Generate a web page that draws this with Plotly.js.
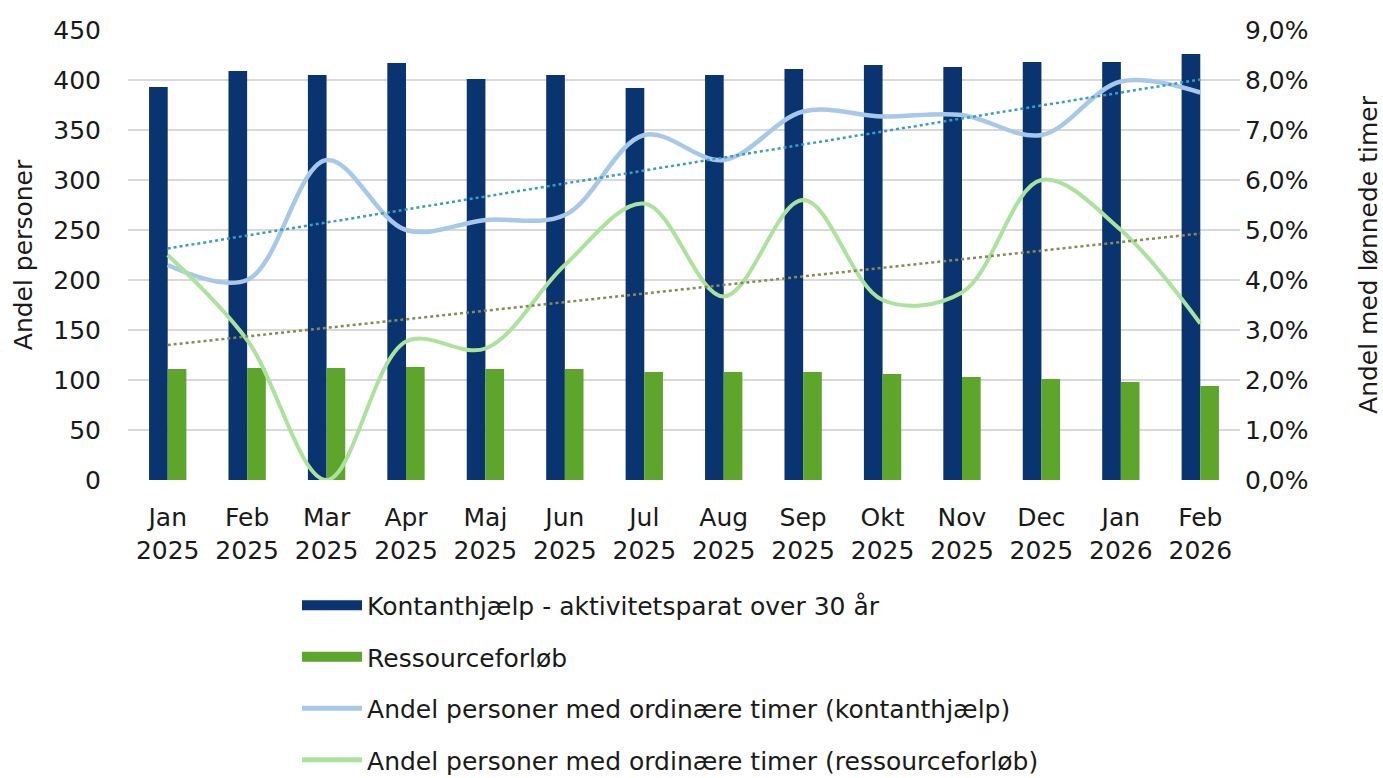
<!DOCTYPE html>
<html>
<head>
<meta charset="utf-8">
<script src="https://cdn.plot.ly/plotly-3.0.1.min.js"></script>
<style>html,body{margin:0;padding:0;background:#fff;}#chart{width:1383px;height:778px;}</style>
</head>
<body>
<div id="chart"></div>
<script>
const categories = ["Jan<br>2025","Feb<br>2025","Mar<br>2025","Apr<br>2025","Maj<br>2025","Jun<br>2025","Jul<br>2025","Aug<br>2025","Sep<br>2025","Okt<br>2025","Nov<br>2025","Dec<br>2025","Jan<br>2026","Feb<br>2026"];
const kontanthjaelp = [393, 409, 405, 417, 401, 405, 392, 405, 411, 415, 413, 418, 418, 426];
const ressourceforloeb = [111, 112, 112, 113, 111, 111, 108, 108, 108, 106, 103, 101, 98, 94];
const andelKontant = [0.043, 0.040, 0.064, 0.050, 0.052, 0.053, 0.069, 0.064, 0.0737, 0.0727, 0.073, 0.069, 0.0797, 0.0775];
const andelRessource = [0.045, 0.028, 0.000, 0.0277, 0.0263, 0.043, 0.0553, 0.0367, 0.056, 0.036, 0.0375, 0.060, 0.050, 0.0313];
const trendCats = ["Jan<br>2025", "Feb<br>2026"];
const trendKontant = [0.0463, 0.0801];
const trendRessource = [0.0270, 0.0493];

const names = ["Kontanthjælp - aktivitetsparat over 30 år", "Ressourceforløb", "Andel personer med ordinære timer (kontanthjælp)", "Andel personer med ordinære timer (ressourceforløb)"];
const colors = ['#0a3470', '#5da52b', '#a8c8ea', '#ace39c'];

const data = [
  {type:'bar', x:categories, y:kontanthjaelp, name:names[0], marker:{color:colors[0]}, showlegend:false, yaxis:'y'},
  {type:'bar', x:categories, y:ressourceforloeb, name:names[1], marker:{color:colors[1]}, showlegend:false, yaxis:'y'},
  {type:'scatter', mode:'lines', x:categories, y:andelKontant, name:names[2], yaxis:'y2', showlegend:false,
   line:{color:colors[2], width:4.5, shape:'spline', smoothing:1}},
  {type:'scatter', mode:'lines', x:categories, y:andelRessource, name:names[3], yaxis:'y2', showlegend:false,
   line:{color:colors[3], width:4, shape:'spline', smoothing:1}},
  {type:'scatter', mode:'lines', x:trendCats, y:trendKontant, yaxis:'y2', showlegend:false, hoverinfo:'skip',
   line:{color:'#3a9dc2', width:2.5, dash:'dot'}},
  {type:'scatter', mode:'lines', x:trendCats, y:trendRessource, yaxis:'y2', showlegend:false, hoverinfo:'skip',
   line:{color:'#8a8a55', width:2.5, dash:'dot'}}
];
// legend entries (wide symbols as in the reference)
const legendWidths = [14, 14, 5, 5];
names.forEach((n, i) => {
  data.push({type:'scatter', mode:'lines', x:[categories[0]], y:[null], name:n, yaxis:'y2',
             legendgroup:'g'+i, hoverinfo:'skip', line:{color:colors[i], width:legendWidths[i]}});
});

const txt = '#1a1a1a';
const layout = {
  width:1383, height:778,
  margin:{l:128, r:143, t:30, b:298, autoexpand:false},
  paper_bgcolor:'#fff', plot_bgcolor:'#fff',
  font:{family:'DejaVu Sans, Verdana, sans-serif', size:25, color:txt},
  separators:',.',
  barmode:'group', bargap:0.53, bargroupgap:0,
  showlegend:true,
  xaxis:{type:'category', categoryorder:'array', categoryarray:categories, tickfont:{size:25, color:txt},
         showgrid:false, showline:false, zeroline:false, ticks:'', range:[-0.5, 13.5], ticklabelstandoff:20},
  yaxis:{range:[0,450], dtick:50, tick0:0, showgrid:true, gridcolor:'#d9d9d9', gridwidth:1.5, zeroline:false,
         showline:false, ticks:'', tickfont:{size:25, color:txt}, ticklabelstandoff:26,
         title:{text:'Andel personer', font:{size:25, color:txt}, standoff:13}},
  yaxis2:{overlaying:'y', side:'right', range:[0,0.09], dtick:0.01, tickformat:'.1%', showgrid:false,
          zeroline:false, showline:false, ticks:'', tickfont:{size:25, color:txt}, ticklabelstandoff:4,
          title:{text:'Andel med lønnede timer', font:{size:25, color:txt}, standoff:52}},
  legend:{orientation:'v', x:0.152, xanchor:'left', y:-0.228, yanchor:'top', traceorder:'grouped',
          tracegroupgap:16, itemwidth:60, font:{size:25, color:txt}, bgcolor:'rgba(0,0,0,0)'}
};

Plotly.newPlot('chart', data, layout, {displayModeBar:false, staticPlot:true});
</script>
</body>
</html>
